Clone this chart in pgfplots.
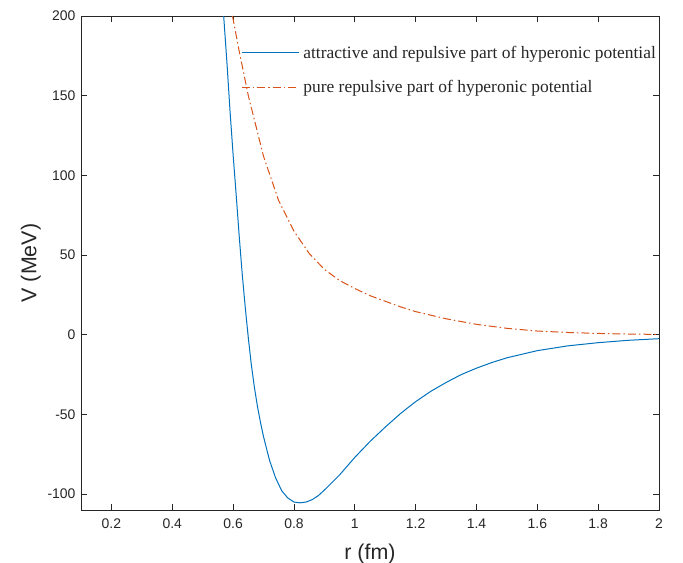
\documentclass[border=0pt]{standalone}
\usepackage{fontspec}
\setmainfont{Liberation Sans}
\newfontfamily\legfont{Liberation Serif}
\usepackage{pgfplots}
\pgfplotsset{compat=1.18}
\definecolor{mblue}{rgb}{0,0.447,0.741}
\definecolor{mred}{rgb}{0.85,0.325,0.098}
\definecolor{axgray}{rgb}{0.15,0.15,0.15}
\begin{document}
\begin{tikzpicture}
\begin{axis}[
  name=ax,
  scale only axis,
  width=578bp, height=494bp,
  xmin=0.1, xmax=2, ymin=-110, ymax=200,
  xtick={0.2,0.4,...,2.01},
  xticklabels={0.2,0.4,0.6,0.8,1,1.2,1.4,1.6,1.8,2},
  ytick={-100,-50,0,50,100,150,200},
  tick align=inside,
  major tick length=6bp,
  axis line style={axgray, line width=0.8bp},
  every tick/.style={axgray, line width=0.8bp},
  tick label style={font=\fontsize{14}{16}\selectfont, text=axgray},
  /pgf/number format/assume math mode=true,
  xticklabel style={yshift=-5bp},
  yticklabel style={xshift=-2bp},
  xlabel={r (fm)}, ylabel={V (MeV)},
  label style={font=\fontsize{21.5}{24}\selectfont, text=axgray},
  xlabel style={yshift=-9bp},
  ylabel style={yshift=0bp},
  legend style={draw=none, fill=none, at={(0.272,0.948)}, anchor=north west,
    font=\legfont\fontsize{17.5}{20}\selectfont, row sep=17bp, text=axgray},
  legend cell align=left,
  legend image code/.code={\draw[#1] (0bp,0bp) -- (57bp,0bp); \path (59bp,0bp);},
]
\addplot[mblue, line width=1bp] table {
r V
0.569 200
0.58 170
0.59 140
0.60 113
0.61 88
0.62 62
0.63 38
0.64 17
0.65 -2
0.66 -19
0.67 -33
0.68 -45
0.69 -55
0.70 -64
0.72 -79
0.74 -90
0.76 -98
0.78 -102.5
0.80 -105
0.82 -105.5
0.84 -105
0.86 -103.5
0.88 -101
0.90 -97.5
0.95 -88
1.00 -77
1.05 -67
1.10 -58
1.15 -49.5
1.20 -42
1.25 -35.5
1.30 -30
1.35 -25
1.40 -21
1.45 -17.5
1.50 -14.5
1.60 -10
1.70 -7
1.80 -5
1.90 -3.5
2.00 -2.5
};
\addlegendentry{attractive and repulsive part of hyperonic potential}
\addplot[mred, line width=1bp, dash pattern=on 8bp off 3bp on 1.5bp off 3bp] table {
r V
0.598 200
0.62 178
0.65 150
0.70 112
0.75 84
0.80 65
0.85 51
0.90 41
0.95 34
1.00 29
1.05 24.5
1.10 21
1.15 17.5
1.20 14.5
1.30 10
1.40 6.5
1.50 4
1.60 2.3
1.70 1.4
1.80 0.8
1.90 0.4
2.00 0.2
};
\addlegendentry{pure repulsive part of hyperonic potential}
\end{axis}
\pgfresetboundingbox
\path ([shift={(-81bp,-53bp)}]ax.south west) rectangle ([shift={(24bp,16bp)}]ax.north east);
\end{tikzpicture}
\end{document}
